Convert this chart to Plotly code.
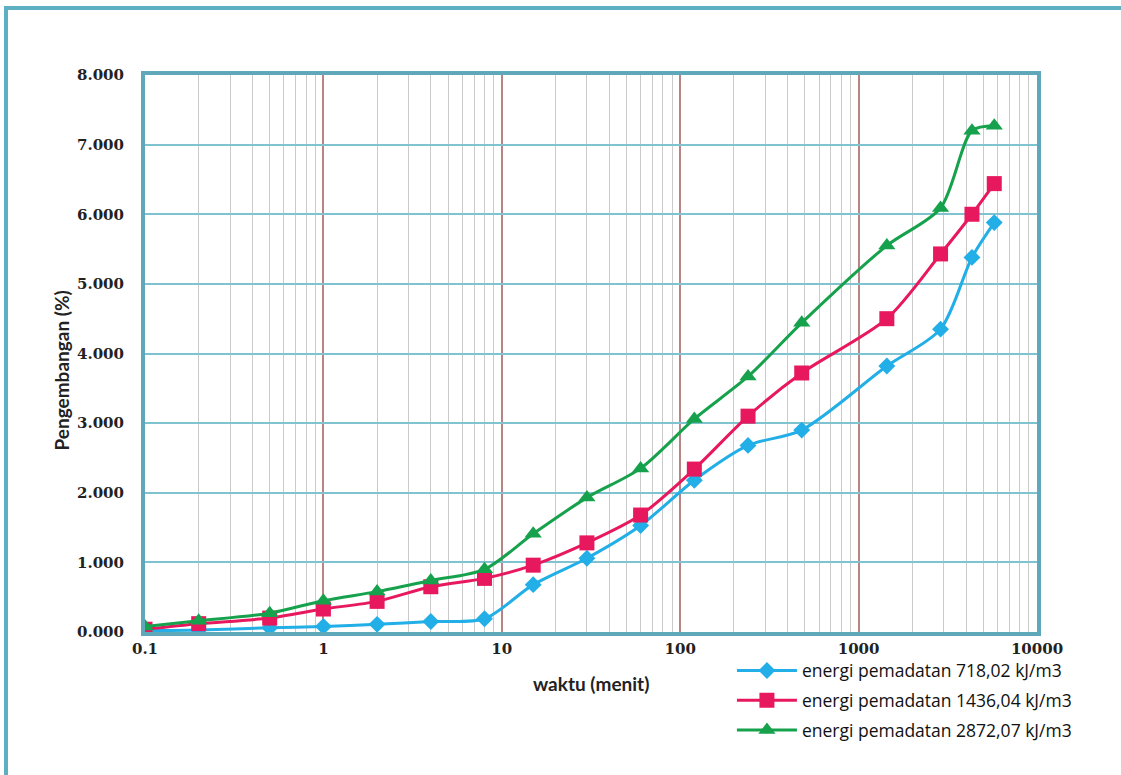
import plotly.graph_objects as go

waktu = [0.1, 0.2, 0.5, 1, 2, 4, 8, 15, 30, 60, 120, 240, 480, 1440, 2880, 4320, 5760]
e718 = [0.02, 0.03, 0.06, 0.08, 0.11, 0.15, 0.19, 0.68, 1.06, 1.53, 2.18, 2.68, 2.90, 3.82, 4.35, 5.38, 5.88]
e1436 = [0.04, 0.12, 0.20, 0.33, 0.44, 0.65, 0.77, 0.96, 1.28, 1.68, 2.34, 3.10, 3.72, 4.50, 5.43, 6.00, 6.44]
e2872 = [0.08, 0.16, 0.27, 0.45, 0.58, 0.74, 0.90, 1.41, 1.93, 2.35, 3.06, 3.67, 4.44, 5.55, 6.09, 7.20, 7.27]

names = ["energi pemadatan 718,02 kJ/m3", "energi pemadatan 1436,04 kJ/m3", "energi pemadatan 2872,07 kJ/m3"]
series = [e718, e1436, e2872]
colors = ["#22AEE6", "#E8185F", "#16A24C"]
symbols = ["diamond", "square", "triangle-up"]
msizes = [13, 15, 15]

major_x = [0.1, 1, 10, 100, 1000, 10000]
major_text = ["0.1", "1", "10", "100", "1000", "10000"]
minor_x = [m * d for d in [0.1, 1, 10, 100, 1000] for m in range(2, 10)]
y_ticks = [0, 1, 2, 3, 4, 5, 6, 7, 8]

fig = go.Figure()
for i in range(3):
    fig.add_trace(go.Scatter(
        x=waktu, y=series[i], name=names[i], mode="lines+markers",
        line=dict(color=colors[i], width=3, shape="spline", smoothing=0.8),
        marker=dict(symbol=symbols[i], size=msizes[i], color=colors[i]),
        legendgroup=str(i),
    ))

tick_font = dict(family="DejaVu Serif", size=15, color="#222222", weight="bold")
title_font = dict(family="Lato", size=19, color="#222222", weight="bold")

fig.update_layout(
    width=1121, height=775,
    margin=dict(l=145, r=84, t=75, b=143),
    paper_bgcolor="white", plot_bgcolor="white",
    showlegend=True,
    legend=dict(x=0.658, y=-0.037, xanchor="left", yanchor="top",
                font=dict(family="Open Sans", size=17.5, color="#111111"),
                tracegroupgap=4, bgcolor="rgba(0,0,0,0)", itemwidth=60),
    xaxis=dict(type="log", range=[-1, 4], tickvals=major_x, ticktext=major_text,
               showgrid=True, gridcolor="#B98484", gridwidth=1.5,
               minor=dict(tickvals=minor_x, showgrid=True, gridcolor="#CACACA", gridwidth=1.3, ticks=""),
               ticks="", tickfont=tick_font, zeroline=False, ticklabelstandoff=0,
               showline=True, linecolor="#5FA8BA", linewidth=4, mirror=True),
    yaxis=dict(range=[0, 8], tickvals=y_ticks, tickformat=".3f",
               showgrid=True, gridcolor="#7EC3CF", gridwidth=1.5,
               ticks="", tickfont=tick_font, zeroline=False, ticklabelstandoff=14,
               showline=True, linecolor="#5FA8BA", linewidth=4, mirror=True),
    annotations=[
        dict(text="Pengembangan (%)", xref="paper", yref="paper", x=-0.109, y=0.47,
             showarrow=False, textangle=-90, font=title_font),
        dict(text="waktu (menit)", xref="paper", yref="paper", x=0.5, y=-0.117,
             showarrow=False, font=title_font),
    ],
    shapes=[
        dict(type="rect", xref="paper", yref="paper",
             x0=(6 - 145) / 892, x1=(1130 - 145) / 892,
             y0=(632 - 790) / 557, y1=(632 - 8) / 557,
             line=dict(color="#5FAFC2", width=4), fillcolor="rgba(0,0,0,0)", layer="below"),
    ],
)

fig.write_html("out.html", config={"displayModeBar": False},
               post_script="document.body.style.margin='0';document.body.style.overflow='hidden';")
